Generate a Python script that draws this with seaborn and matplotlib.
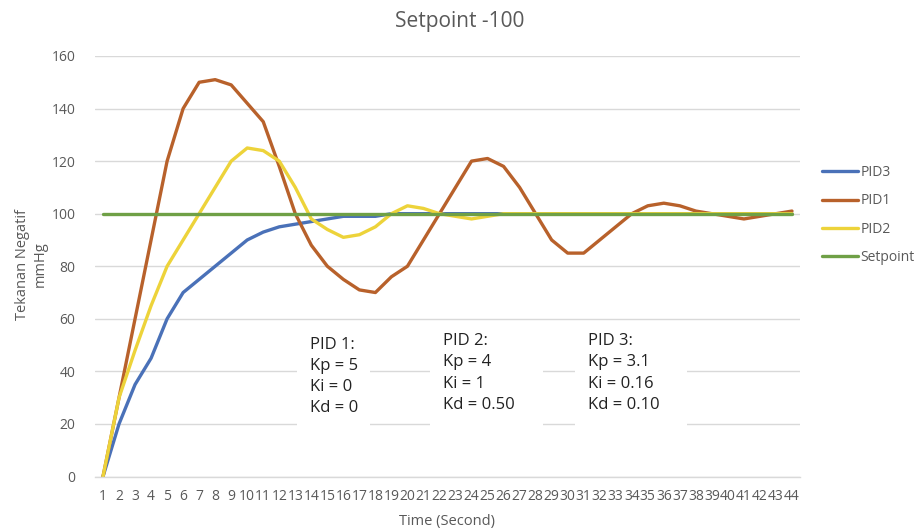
import numpy as np
import pandas as pd
import matplotlib
matplotlib.use("Agg")
import matplotlib.pyplot as plt
import seaborn as sns

# ---- data ----
time_s = list(range(1, 45))
pid3 = [0, 20, 35, 45, 60, 70, 75, 80, 85, 90, 93, 95, 96, 97, 98, 99, 99, 99, 100, 100,
        100, 100, 100, 100, 100, 100, 100, 100, 100, 100, 100, 100, 100, 100, 100, 100,
        100, 100, 100, 100, 100, 100, 100, 100]
pid1 = [0, 30, 60, 90, 120, 140, 150, 151, 149, 142, 135, 118, 100, 88, 80, 75, 71, 70, 76, 80,
        90, 100, 110, 120, 121, 118, 110, 100, 90, 85, 85, 90, 95, 100, 103, 104, 103, 101,
        100, 99, 98, 99, 100, 101]
pid2 = [0, 30, 48, 65, 80, 90, 100, 110, 120, 125, 124, 120, 110, 98, 94, 91, 92, 95, 100, 103,
        102, 100, 99, 98, 99, 100, 100, 100, 100, 100, 100, 100, 100, 100, 100, 100, 100, 100,
        100, 100, 100, 100, 100, 100]
setpoint = [100] * 44
series_names = ["PID3", "PID1", "PID2", "Setpoint"]
y_ticks = [0, 20, 40, 60, 80, 100, 120, 140, 160]
notes = ["PID 1:\nKp = 5\nKi = 0\nKd = 0",
         "PID 2:\nKp = 4\nKi = 1\nKd = 0.50",
         "PID 3:\nKp = 3.1\nKi = 0.16\nKd = 0.10"]

df = pd.DataFrame({
    "Time": time_s * 4,
    "Value": pid3 + pid1 + pid2 + setpoint,
    "Series": sum([[n] * 44 for n in series_names], []),
})

palette = {"PID3": "#4A71B8", "PID1": "#B8612B", "PID2": "#EDD33A", "Setpoint": "#6FA046"}

sns.set_theme(style="white")
plt.rcParams["font.family"] = ["Open Sans", "DejaVu Sans"]
TXT = "#595959"
GRID = "#D9D9D9"

fig = plt.figure(figsize=(9.19, 5.31), dpi=100)
L, R, T, B = 95, 800, 56, 476.5
ax = fig.add_axes([L / 919, 1 - B / 531, (R - L) / 919, (B - T) / 531])

sns.lineplot(data=df, x="Time", y="Value", hue="Series", hue_order=series_names,
             palette=palette, linewidth=2.4, ax=ax, legend=True)

ax.set_xlim(0.5, 44.5)
ax.set_ylim(0, 160)
ax.set_yticks(y_ticks)
ax.set_xticks(time_s)
ax.set_xticks(np.arange(0.5, 45, 1.0), minor=True)
ax.tick_params(axis="x", which="major", length=0, pad=9, labelsize=10, labelcolor=TXT)
ax.tick_params(axis="x", which="minor", length=4, color=GRID, width=1)
ax.tick_params(axis="y", length=0, pad=14, labelsize=10, labelcolor=TXT)
ax.yaxis.grid(True, color=GRID, linewidth=1)
ax.set_axisbelow(True)
for s in ["top", "right", "left"]:
    ax.spines[s].set_visible(False)
ax.spines["bottom"].set_color(GRID)
ax.spines["bottom"].set_linewidth(1)
ax.set_xlabel("")
ax.set_ylabel("")

# annotation boxes (white background hiding gridlines)
boxes = [(297, 370, 328, 430), (430, 543, 325, 430), (575, 687, 325, 430)]
text_pos = [(310, 376.5), (443, 373), (588, 373)]
for (x0, x1, y0, y1), (tx, ty), note in zip(boxes, text_pos, notes):
    ax.add_patch(plt.Rectangle(((x0 - L) / (R - L), (B - y1) / (B - T)),
                               (x1 - x0) / (R - L), (y1 - y0) / (B - T),
                               transform=ax.transAxes, facecolor="white",
                               edgecolor="none", zorder=1.5))
    ax.text((tx - L) / (R - L), (B - ty) / (B - T), note, transform=ax.transAxes,
            ha="left", va="center", fontsize=12, color="#222222", linespacing=1.42,
            zorder=5)

# legend
leg = ax.legend(loc="center left", bbox_to_anchor=(822 / 919, 1 - 215 / 531),
                bbox_transform=fig.transFigure, frameon=False, fontsize=10,
                handlelength=2.6, handletextpad=0.15, labelspacing=0.95,
                borderpad=0, borderaxespad=0)
for t in leg.get_texts():
    t.set_color(TXT)

fig.text(460 / 919, 1 - 21.7 / 531, "Setpoint -100", ha="center", va="center",
         fontsize=15, color=TXT)
fig.text(447 / 919, 1 - 521.7 / 531, "Time (Second)", ha="center", va="center",
         fontsize=10.5, color=TXT)
fig.text(31 / 919, 1 - 264 / 531, "Tekanan Negatif\nmmHg", ha="center", va="center",
         rotation=90, fontsize=10.5, color=TXT, linespacing=1.25)

fig.savefig("out.png", dpi=100)
